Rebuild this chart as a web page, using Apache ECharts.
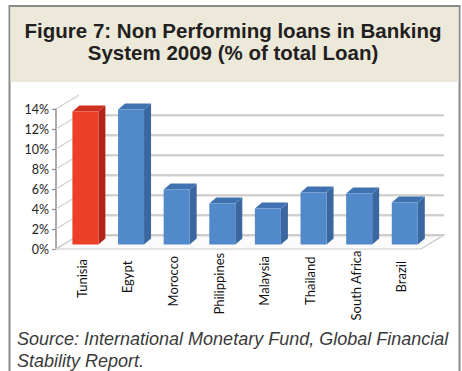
<!DOCTYPE html>
<html>
<head>
<meta charset="utf-8">
<script src="https://cdn.jsdelivr.net/npm/echarts@6/dist/echarts.min.js"></script>
<style>
  html, body { margin: 0; padding: 0; background: #ffffff; }
  #chart { width: 462px; height: 371px; }
</style>
</head>
<body>
<div id="chart"></div>
<script>
// Non-performing loans, share of total loans, 2009 (%)
const countries = ['Tunisia', 'Egypt', 'Morocco', 'Philippines', 'Malaysia', 'Thailand', 'South Africa', 'Brazil'];
const nplShare = [13.3, 13.5, 5.5, 4.1, 3.6, 5.2, 5.1, 4.2];
const highlighted = ['Tunisia'];
const yTicks = [0, 2, 4, 6, 8, 10, 12, 14];
const titleLines = ['Figure 7: Non Performing loans in Banking', 'System 2009 (% of total Loan)'];
const sourceLines = ['Source: International Monetary Fund, Global Financial', 'Stability Report.'];

// pseudo-3D geometry (pixels)
const WALL_DX = 23, WALL_DY = -14;     // back wall offset from the value axis
const BAR_SX = 6.6, BAR_SY = -4.5;     // bar front face offset inside the floor
const BAR_DX = 7, BAR_DY = -6;         // bar depth
const LABEL_FONT = '13px Lato';

const measureCtx = document.createElement('canvas').getContext('2d');
function textWidth(str, font) {
  measureCtx.font = font;
  return measureCtx.measureText(str).width;
}

const palette = {
  blue: { front: '#5189cb', side: '#3a679f', top: '#3f72b0' },
  red: { front: '#ec4128', side: '#b5241a', top: '#d2301e' }
};

const chart = echarts.init(document.getElementById('chart'), null, { renderer: 'svg' });

const titleFont = 'bold 20.5px "Liberation Sans"';
const sourceFont = 'italic 18px "Liberation Sans"';

const option = {
  backgroundColor: '#ffffff',
  animation: false,
  grid: { left: 56, right: 41, top: 109, bottom: 122 },
  xAxis: {
    type: 'category',
    data: countries,
    axisLine: { show: false },
    axisTick: { show: false },
    axisLabel: { show: false },
    splitLine: { show: false }
  },
  yAxis: {
    type: 'value',
    min: 0,
    max: 14,
    interval: 2,
    axisLine: { show: true, lineStyle: { color: '#8e8e8e', width: 1.5 } },
    axisTick: { show: true, length: 4, lineStyle: { color: '#8e8e8e', width: 1.2 } },
    axisLabel: {
      formatter: v => v + '%',
      fontFamily: 'Lato',
      fontSize: 12.5,
      color: '#222222',
      margin: 7
    },
    splitLine: { show: false }
  },
  graphic: [
    { type: 'rect', z: -10, shape: { x: 9.5, y: 6, width: 450, height: 380 },
      style: { fill: '#ffffff', stroke: '#8a8a8a', lineWidth: 2 } },
    { type: 'rect', z: -9, shape: { x: 10.5, y: 7, width: 448, height: 75 },
      style: { fill: '#ece9da' } },
    { type: 'text', x: 233, y: 19.5,
      style: { text: titleLines[0], font: titleFont, fill: '#231f20', align: 'center', verticalAlign: 'top' } },
    { type: 'text', x: 233, y: 42,
      style: { text: titleLines[1], font: titleFont, fill: '#231f20', align: 'center', verticalAlign: 'top' } },
    { type: 'text', x: 17, y: 330,
      style: { text: sourceLines[0], font: sourceFont, fill: '#3a3a3a', verticalAlign: 'top' } },
    { type: 'text', x: 17, y: 352,
      style: { text: sourceLines[1], font: sourceFont, fill: '#3a3a3a', verticalAlign: 'top' } }
  ],
  series: [
    {
      // side wall diagonals, back wall gridlines and floor
      type: 'custom',
      silent: true,
      z: 1,
      data: yTicks.map(v => [0, v]),
      renderItem(params, api) {
        const cs = params.coordSys;
        const v = api.value(1);
        const y = api.coord([0, v])[1];
        const children = [];
        if (v === 0) {
          children.push({
            type: 'polygon',
            shape: { points: [[cs.x, y], [cs.x + cs.width, y], [cs.x + cs.width + WALL_DX, y + WALL_DY], [cs.x + WALL_DX, y + WALL_DY]] },
            style: { fill: '#fbfbfb', stroke: '#c8c8c8', lineWidth: 1.2 }
          });
        }
        children.push({
          type: 'line',
          shape: { x1: cs.x, y1: y, x2: cs.x + WALL_DX, y2: y + WALL_DY },
          style: { stroke: '#d2cfcb', lineWidth: 1.2 }
        });
        if (v !== yTicks[yTicks.length - 1]) {
          children.push({
            type: 'line',
            shape: { x1: cs.x + WALL_DX, y1: y + WALL_DY + 1, x2: cs.x + cs.width + WALL_DX, y2: y + WALL_DY + 1 },
            style: { stroke: '#e4e2df', lineWidth: 1.5 }
          });
          children.push({
            type: 'line',
            shape: { x1: cs.x + WALL_DX, y1: y + WALL_DY, x2: cs.x + cs.width + WALL_DX, y2: y + WALL_DY },
            style: { stroke: '#c9c5c0', lineWidth: 1.3 }
          });
        }
        return { type: 'group', children };
      }
    },
    {
      // 3D columns with category labels
      type: 'custom',
      z: 3,
      data: nplShare.map((v, i) => [i, v]),
      renderItem(params, api) {
        const i = api.value(0);
        const v = api.value(1);
        const base = api.coord([i, 0]);
        const top = api.coord([i, v]);
        const w = api.size([1, 0])[0] * 0.57;
        const x0 = base[0] - w / 2 + BAR_SX;
        const x1 = x0 + w;
        const yb = base[1] + BAR_SY;
        const yt = top[1] + BAR_SY;
        const c = highlighted.includes(countries[i]) ? palette.red : palette.blue;
        const name = countries[i];
        const len = textWidth(name, LABEL_FONT);
        return {
          type: 'group',
          children: [
            { type: 'polygon',
              shape: { points: [[x1, yt], [x1 + BAR_DX, yt + BAR_DY], [x1 + BAR_DX, yb + BAR_DY], [x1, yb]] },
              style: { fill: c.side } },
            { type: 'polygon',
              shape: { points: [[x0, yt], [x1, yt], [x1 + BAR_DX, yt + BAR_DY], [x0 + BAR_DX, yt + BAR_DY]] },
              style: { fill: c.top } },
            { type: 'rect',
              shape: { x: x0, y: yt, width: w, height: yb - yt },
              style: { fill: c.front } },
            { type: 'text',
              x: base[0] + 3,
              y: 269.5 - 0.27 * len,
              rotation: Math.PI / 2,
              style: { text: name, font: LABEL_FONT, fill: '#111111', align: 'right', verticalAlign: 'middle' } }
          ]
        };
      }
    }
  ]
};

chart.setOption(option);
</script>
</body>
</html>
